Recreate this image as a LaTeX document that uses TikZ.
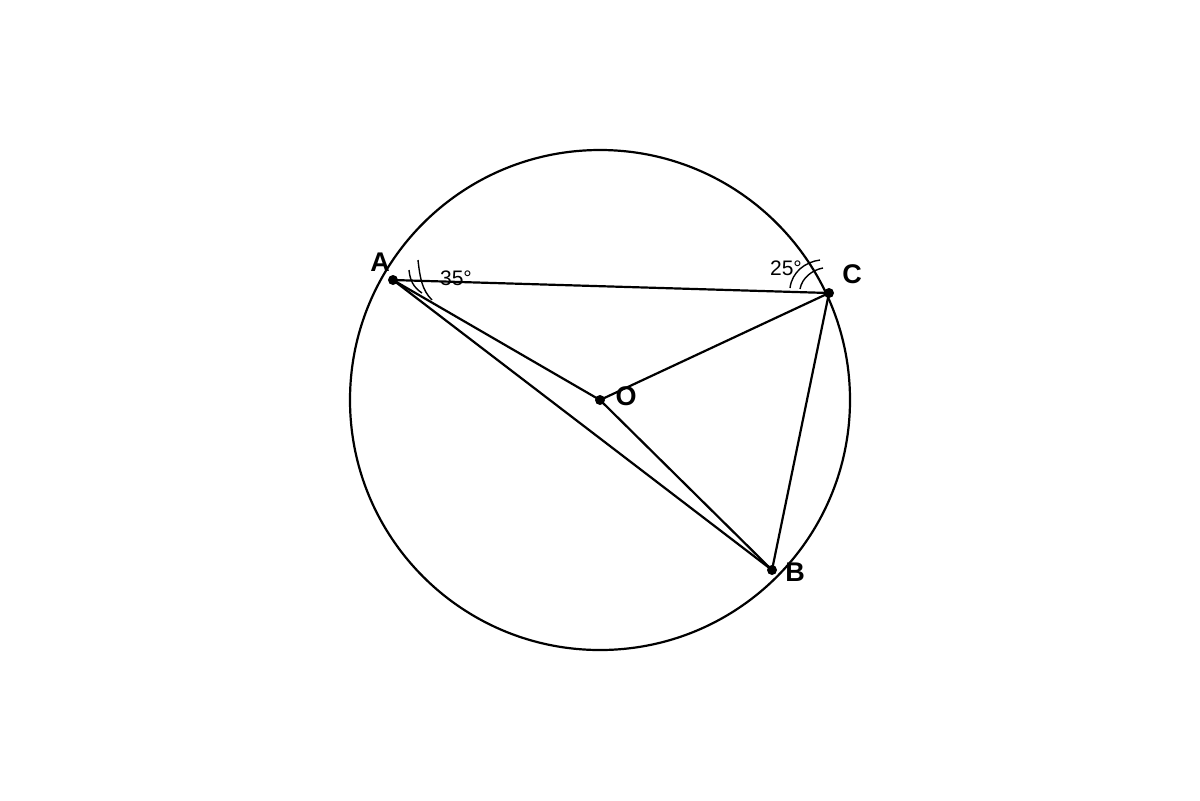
\documentclass[tikz,border=0pt]{standalone}
\usepackage{fontspec}
\setmainfont{Liberation Sans}
\begin{document}
\begin{tikzpicture}[x=0.5pt,y=-0.5pt,
  seg/.style={line width=1.1pt,black},
  mark arc/.style={line width=0.7pt,black},
  pt/.style={fill=black},
  ptlabel/.style={font=\fontsize{13.5}{15}\selectfont\bfseries},
  anglabel/.style={font=\fontsize{10.5}{12}\selectfont}]
\useasboundingbox (0,0) rectangle (1200,800);
% circle
\draw[seg] (600,400) circle (250);
% points
\coordinate (O) at (600,400);
\coordinate (A) at (393,280);
\coordinate (C) at (829,293);
\coordinate (B) at (772,570);
% sides
\draw[seg] (A) -- (C);
\draw[seg] (A) -- (B);
\draw[seg] (A) -- (O);
\draw[seg] (O) -- (C);
\draw[seg] (O) -- (B);
\draw[seg] (C) -- (B);
% angle marks at A
\draw[mark arc] (409,270) .. controls (410,280) and (413,287) .. (422,293);
\draw[mark arc] (418,260) .. controls (420,278) and (422,290) .. (432,300);
% angle marks at C
\draw[mark arc] (800,289) .. controls (802,278) and (812,270) .. (823,268);
\draw[mark arc] (790,288) .. controls (792,272) and (805,262) .. (820,260);
% dots
\foreach \p in {A,B,C,O} \fill[pt] (\p) circle (5);
% labels
\node[ptlabel] (lA) at (380,262) {A};
\node[ptlabel] (lC) at (852,274) {C};
\node[ptlabel] (lO) at (626,396) {O};
\node[ptlabel] (lB) at (795,572) {B};
\node[anglabel] (a35) at (456,278) {35°};
\node[anglabel] (a25) at (786,268) {25°};
\end{tikzpicture}
\end{document}
